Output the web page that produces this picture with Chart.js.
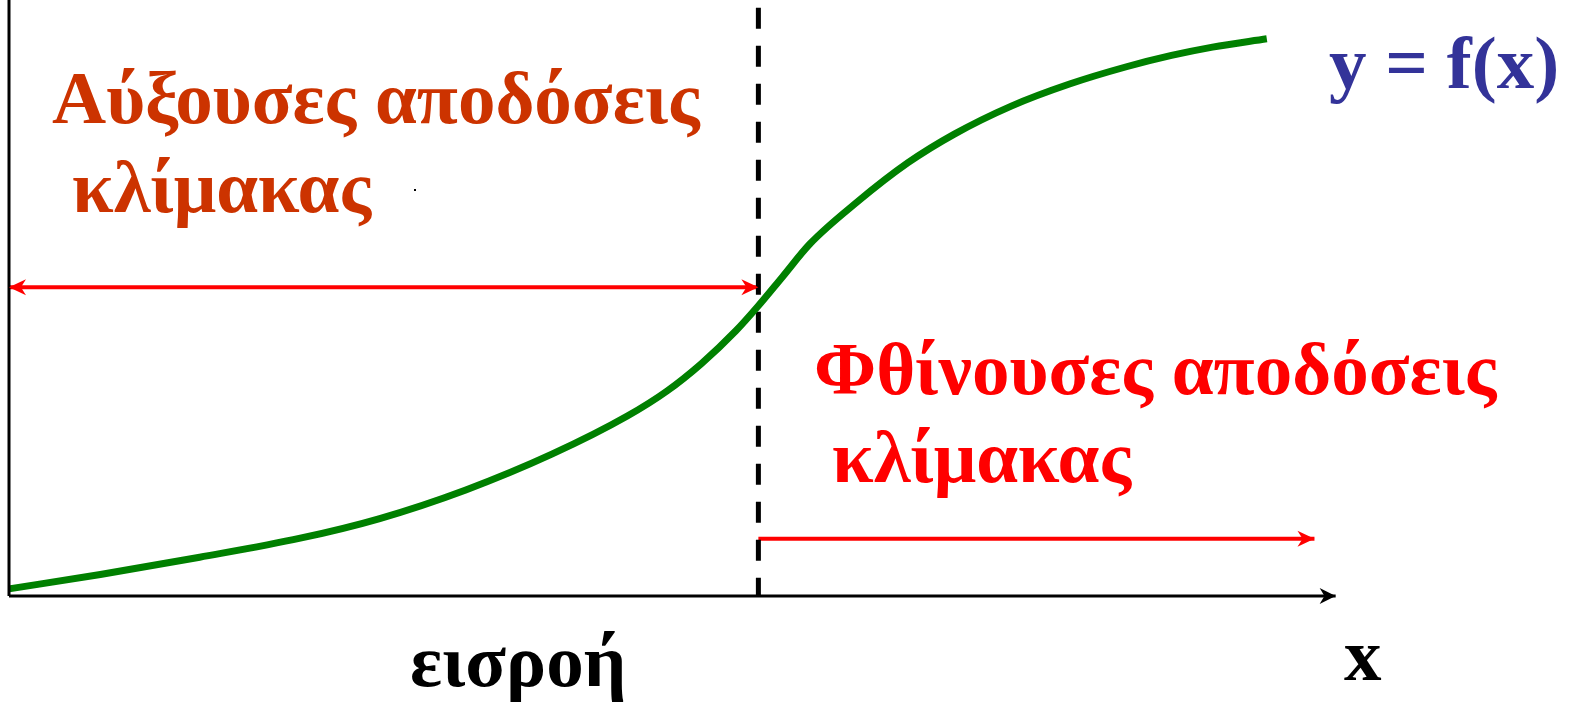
<!DOCTYPE html>
<html>
<head>
<meta charset="utf-8">
<script src="https://cdn.jsdelivr.net/npm/chart.js@4/dist/chart.umd.min.js"></script>
<style>
  html, body { margin: 0; padding: 0; background: #fff; }
  #wrap { width: 1575px; height: 711px; }
</style>
</head>
<body>
<div id="wrap"><canvas id="scalechart"></canvas></div>
<script>
// production curve y = f(x) (0..100 on both axes)
const curveX = [0, 6.9, 14.4, 22.0, 28.0, 34.5, 41.0, 46.7, 49.7, 52.3, 54.9, 56.6, 58.4, 60.5, 64.0, 67.9, 71.4, 75.7, 80.1, 84.4, 87.8, 90.9, 95.0];
const curveY = [1.2, 3.6, 6.5, 9.7, 13.0, 17.8, 23.8, 30.2, 34.4, 39.0, 44.5, 48.7, 53.5, 59.1, 66.0, 72.7, 77.5, 82.2, 85.9, 88.8, 90.7, 92.1, 93.5];

// where returns change from increasing to decreasing
const splitX = 56.6;
const splitTop = 98.7;

// the two red range arrows
const incArrowY = 51.8;
const decArrowY = 9.6;
const decArrowEnd = 98.6;

// axes
const xAxisEnd = 100.2;
const yAxisTop = 100;

const labels = {
  inc: ['Αύξουσες αποδόσεις', 'κλίμακας'],
  dec: ['Φθίνουσες αποδόσεις', 'κλίμακας'],
  fn: 'y = f(x)',
  xName: 'x',
  input: 'εισροή'
};

const pts = (xs, ys) => xs.map((x, i) => ({ x: x, y: ys[i] }));

// arrowheads at the ends of flagged datasets
const arrowPlugin = {
  id: 'arrows',
  afterDatasetsDraw(chart) {
    const ctx = chart.ctx;
    chart.data.datasets.forEach((ds, i) => {
      if (!ds.arrows) return;
      const p = chart.getDatasetMeta(i).data;
      const head = (tip, from) => {
        const a = Math.atan2(tip.y - from.y, tip.x - from.x);
        const L = ds.headLen, W = ds.headWid;
        ctx.save();
        ctx.fillStyle = ds.borderColor;
        ctx.beginPath();
        ctx.moveTo(tip.x, tip.y);
        ctx.lineTo(tip.x - L * Math.cos(a) + W * Math.sin(a), tip.y - L * Math.sin(a) - W * Math.cos(a));
        ctx.lineTo(tip.x - L * 0.7 * Math.cos(a), tip.y - L * 0.7 * Math.sin(a));
        ctx.lineTo(tip.x - L * Math.cos(a) - W * Math.sin(a), tip.y - L * Math.sin(a) + W * Math.cos(a));
        ctx.closePath();
        ctx.fill();
        ctx.restore();
      };
      if (ds.arrows.includes('end')) head(p[p.length - 1], p[p.length - 2]);
      if (ds.arrows.includes('start')) head(p[0], p[1]);
    });
  }
};

// text labels
const textPlugin = {
  id: 'texts',
  afterDraw(chart) {
    const ctx = chart.ctx;
    ctx.save();
    ctx.textBaseline = 'alphabetic';
    ctx.textAlign = 'left';
    const serif = "'Liberation Serif', 'Times New Roman', serif";
    ctx.font = 'bold 75px ' + serif;
    ctx.fillStyle = '#cc3300';
    ctx.fillText(labels.inc[0], 52, 123);
    ctx.fillText(labels.inc[1], 72, 212);
    ctx.fillStyle = '#ff0000';
    ctx.fillText(labels.dec[0], 814, 394);
    ctx.fillText(labels.dec[1], 832, 482);
    ctx.fillStyle = '#333399';
    ctx.fillText(labels.fn, 1329, 88);
    ctx.fillStyle = '#000';
    ctx.fillText(labels.xName, 1344, 680);
    ctx.fillText(labels.input, 410, 686);
    ctx.fillRect(414, 189, 2, 2);
    ctx.restore();
  }
};

const config = {
  type: 'line',
  data: {
    datasets: [
      {
        label: 'y axis',
        data: pts([0, 0], [0, yAxisTop]),
        borderColor: '#000', borderWidth: 3, pointRadius: 0, clip: false
      },
      {
        label: 'x axis',
        data: pts([0, xAxisEnd], [0, 0]),
        borderColor: '#000', borderWidth: 3, pointRadius: 0, clip: false,
        arrows: ['end'], headLen: 16, headWid: 8
      },
      {
        label: 'f(x)',
        data: pts(curveX, curveY),
        borderColor: '#008000', borderWidth: 7, pointRadius: 0,
        cubicInterpolationMode: 'monotone', borderCapStyle: 'butt', clip: false
      },
      {
        label: 'split',
        data: pts([splitX, splitX], [splitTop, 0]),
        borderColor: '#000', borderWidth: 5, borderDash: [21, 17], pointRadius: 0, clip: false
      },
      {
        label: 'increasing',
        data: pts([0, splitX], [incArrowY, incArrowY]),
        borderColor: '#ff0000', borderWidth: 4, pointRadius: 0, clip: false,
        arrows: ['start', 'end'], headLen: 17, headWid: 8
      },
      {
        label: 'decreasing',
        data: pts([splitX, decArrowEnd], [decArrowY, decArrowY]),
        borderColor: '#ff0000', borderWidth: 4, pointRadius: 0, clip: false,
        arrows: ['end'], headLen: 17, headWid: 8
      }
    ]
  },
  options: {
    responsive: true,
    maintainAspectRatio: false,
    animation: false,
    layout: { padding: { left: 9, right: 242, top: 0, bottom: 115 } },
    plugins: { legend: { display: false }, tooltip: { enabled: false } },
    scales: {
      x: { type: 'linear', min: 0, max: 100, display: false },
      y: { type: 'linear', min: 0, max: 100, display: false }
    }
  },
  plugins: [arrowPlugin, textPlugin]
};

const scalechart = new Chart(document.getElementById('scalechart'), config);
</script>
</body>
</html>
